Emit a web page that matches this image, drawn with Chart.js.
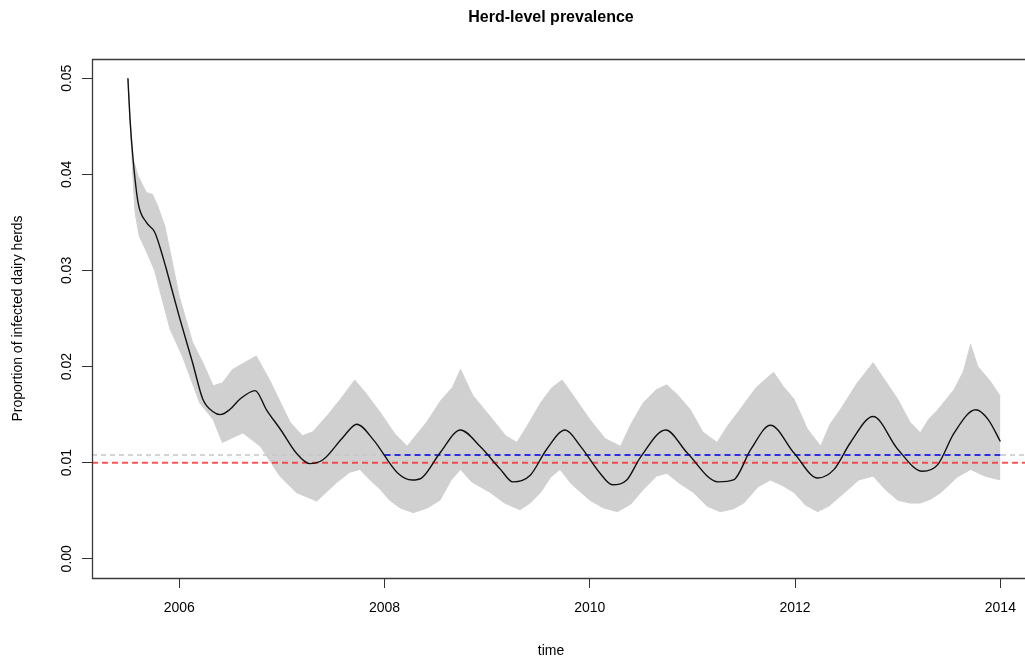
<!DOCTYPE html>
<html>
<head>
<meta charset="utf-8">
<title>Herd-level prevalence</title>
<script src="https://cdn.jsdelivr.net/npm/chart.js@4.4.1/dist/chart.umd.min.js"></script>
<style>
	html, body { margin: 0; padding: 0; background: #fff; }
	#chart { display: block; }
</style>
</head>
<body>
<canvas id="chart" width="1025" height="666"></canvas>
<script>
const meanYears = [2005.50, 2005.52, 2005.55, 2005.60, 2005.68, 2005.76, 2005.81, 2005.87, 2006.00, 2006.13, 2006.23, 2006.33, 2006.40, 2006.49, 2006.59, 2006.74, 2006.85, 2006.99, 2007.14, 2007.27, 2007.40, 2007.60, 2007.73, 2007.89, 2008.13, 2008.27, 2008.36, 2008.54, 2008.74, 2008.93, 2009.13, 2009.25, 2009.42, 2009.58, 2009.76, 2009.91, 2010.10, 2010.22, 2010.36, 2010.49, 2010.74, 2010.95, 2011.25, 2011.40, 2011.57, 2011.76, 2011.99, 2012.22, 2012.38, 2012.54, 2012.76, 2013.00, 2013.24, 2013.39, 2013.55, 2013.76, 2013.88, 2014.00];
const meanValues = [0.0500, 0.0458, 0.0416, 0.0370, 0.0350, 0.0340, 0.0325, 0.0303, 0.0252, 0.0204, 0.0166, 0.0153, 0.0150, 0.0155, 0.0166, 0.0175, 0.0155, 0.0134, 0.0110, 0.0099, 0.0103, 0.0127, 0.0140, 0.0124, 0.0089, 0.0082, 0.0084, 0.0110, 0.0134, 0.0117, 0.0093, 0.0080, 0.0087, 0.0114, 0.0134, 0.0117, 0.0089, 0.0077, 0.0082, 0.0105, 0.0134, 0.0110, 0.0080, 0.0082, 0.0114, 0.0139, 0.0110, 0.0084, 0.0093, 0.0121, 0.0148, 0.0114, 0.0091, 0.0098, 0.0131, 0.0155, 0.0145, 0.0122];

// outer edges of the grey simulated runs
const upperYears = [2005.50, 2005.52, 2005.55, 2005.60, 2005.68, 2005.74, 2005.79, 2005.86, 2005.92, 2006.00, 2006.13, 2006.23, 2006.33, 2006.42, 2006.52, 2006.75, 2006.88, 2007.08, 2007.20, 2007.30, 2007.45, 2007.57, 2007.71, 2007.82, 2007.96, 2008.10, 2008.22, 2008.41, 2008.55, 2008.66, 2008.74, 2008.86, 2009.03, 2009.18, 2009.29, 2009.40, 2009.52, 2009.63, 2009.73, 2009.85, 2010.00, 2010.15, 2010.30, 2010.40, 2010.52, 2010.65, 2010.75, 2010.86, 2010.98, 2011.10, 2011.24, 2011.34, 2011.44, 2011.62, 2011.79, 2011.88, 2011.99, 2012.12, 2012.25, 2012.34, 2012.44, 2012.60, 2012.76, 2012.88, 2013.00, 2013.12, 2013.22, 2013.30, 2013.39, 2013.55, 2013.64, 2013.71, 2013.78, 2013.90, 2014.00];
const upperValues = [0.0500, 0.0458, 0.0416, 0.0398, 0.0381, 0.0379, 0.0367, 0.0346, 0.0315, 0.0273, 0.0225, 0.0204, 0.0180, 0.0183, 0.0197, 0.0211, 0.0186, 0.0142, 0.0128, 0.0132, 0.0150, 0.0166, 0.0186, 0.0172, 0.0152, 0.0130, 0.0117, 0.0142, 0.0165, 0.0178, 0.0197, 0.0170, 0.0148, 0.0128, 0.0121, 0.0140, 0.0162, 0.0178, 0.0186, 0.0168, 0.0145, 0.0125, 0.0117, 0.0140, 0.0162, 0.0176, 0.0181, 0.0170, 0.0155, 0.0132, 0.0121, 0.0138, 0.0152, 0.0178, 0.0194, 0.0180, 0.0166, 0.0135, 0.0117, 0.0140, 0.0155, 0.0182, 0.0204, 0.0185, 0.0166, 0.0142, 0.0131, 0.0145, 0.0155, 0.0176, 0.0195, 0.0223, 0.0200, 0.0185, 0.0169];
const lowerYears = [2005.50, 2005.52, 2005.55, 2005.57, 2005.61, 2005.70, 2005.76, 2005.91, 2006.03, 2006.20, 2006.33, 2006.42, 2006.62, 2006.79, 2006.98, 2007.14, 2007.34, 2007.53, 2007.66, 2007.76, 2007.86, 2007.96, 2008.05, 2008.15, 2008.28, 2008.42, 2008.54, 2008.65, 2008.74, 2008.85, 2009.03, 2009.17, 2009.32, 2009.42, 2009.52, 2009.62, 2009.71, 2009.82, 2010.00, 2010.13, 2010.27, 2010.40, 2010.52, 2010.65, 2010.75, 2010.88, 2011.01, 2011.14, 2011.27, 2011.40, 2011.50, 2011.64, 2011.76, 2011.88, 2011.99, 2012.10, 2012.22, 2012.33, 2012.44, 2012.62, 2012.76, 2012.88, 2013.00, 2013.12, 2013.22, 2013.32, 2013.42, 2013.58, 2013.71, 2013.85, 2014.00];
const lowerValues = [0.0500, 0.0458, 0.0395, 0.0360, 0.0336, 0.0315, 0.0300, 0.0239, 0.0211, 0.0162, 0.0145, 0.0121, 0.0131, 0.0117, 0.0086, 0.0069, 0.0060, 0.0079, 0.0090, 0.0093, 0.0082, 0.0072, 0.0061, 0.0053, 0.0048, 0.0053, 0.0061, 0.0082, 0.0093, 0.0080, 0.0069, 0.0058, 0.0051, 0.0058, 0.0069, 0.0085, 0.0093, 0.0078, 0.0061, 0.0053, 0.0049, 0.0057, 0.0072, 0.0086, 0.0089, 0.0078, 0.0069, 0.0055, 0.0049, 0.0052, 0.0058, 0.0075, 0.0082, 0.0076, 0.0069, 0.0056, 0.0049, 0.0055, 0.0065, 0.0082, 0.0086, 0.0072, 0.0061, 0.0058, 0.0058, 0.0062, 0.0069, 0.0085, 0.0093, 0.0086, 0.0082];

const xTicks = [2006, 2008, 2010, 2012, 2014];
const yTicks = [0, 0.01, 0.02, 0.03, 0.04, 0.05];
const xRange = [2005.15, 2014.24];
const yRange = [-0.002, 0.052];

const redLevel = 0.01;
const greyLevel = 0.0108;
const blueLevel = 0.0108;
const blueYears = [2008, 2014];

const fontFamily = '"Liberation Sans", Arial, Helvetica, sans-serif';

const toPoints = (xs, ys) => xs.map((x, i) => ({ x, y: ys[i] }));
const flatLine = (xs, level) => xs.map((x) => ({ x, y: level }));

const frame = {
	id: 'frame',
	afterDraw: (chart) => {
		const { ctx, chartArea: { left, top, right, bottom } } = chart;

		ctx.save();
		ctx.strokeStyle = '#3a3a3a';
		ctx.lineWidth = 1.3;
		ctx.beginPath();
		ctx.moveTo(right, top + 0.5);
		ctx.lineTo(left + 0.5, top + 0.5);
		ctx.lineTo(left + 0.5, bottom + 0.5);
		ctx.lineTo(right, bottom + 0.5);
		ctx.stroke();

		ctx.fillStyle = '#000';
		ctx.textAlign = 'center';
		ctx.textBaseline = 'middle';
		ctx.font = `bold 16px ${fontFamily}`;
		ctx.fillText('Herd-level prevalence', 551, 18);
		ctx.font = `14px ${fontFamily}`;
		ctx.fillText('time', 551, 651);
		ctx.restore();
	},
};

Chart.defaults.font.family = fontFamily;
Chart.defaults.font.size = 14;
Chart.defaults.color = '#000';

new Chart(document.getElementById('chart'), {
	type: 'line',
	data: {
		datasets: [
			{
				data: toPoints(meanYears, meanValues),
				borderColor: '#111',
				borderWidth: 1.4,
				pointRadius: 0,
				cubicInterpolationMode: 'monotone',
				fill: false,
				order: 0,
			},
			{
				data: flatLine(xRange, redLevel),
				borderColor: 'rgba(255, 40, 40, 0.8)',
				borderWidth: 2,
				borderDash: [6, 4],
				pointRadius: 0,
				fill: false,
				order: 1,
			},
			{
				data: flatLine(blueYears, blueLevel),
				borderColor: 'rgba(20, 20, 230, 0.85)',
				borderWidth: 2,
				borderDash: [6, 4],
				pointRadius: 0,
				fill: false,
				order: 1,
			},
			{
				data: flatLine(xRange, greyLevel),
				borderColor: '#c6c6c6',
				borderWidth: 1.5,
				borderDash: [5, 4],
				pointRadius: 0,
				fill: false,
				order: 2,
			},
			{
				data: toPoints(upperYears, upperValues),
				borderColor: '#d0d0d0',
				backgroundColor: '#d0d0d0',
				borderWidth: 1,
				pointRadius: 0,
				fill: '+1',
				order: 3,
			},
			{
				data: toPoints(lowerYears, lowerValues),
				borderColor: '#d0d0d0',
				borderWidth: 1,
				pointRadius: 0,
				fill: false,
				order: 3,
			},
		],
	},
	options: {
		responsive: false,
		animation: false,
		devicePixelRatio: 1,
		layout: {
			padding: { top: 59, right: 0, bottom: 0, left: 0 },
		},
		plugins: {
			legend: { display: false },
			tooltip: { enabled: false },
		},
		scales: {
			x: {
				type: 'linear',
				min: xRange[0],
				max: xRange[1],
				afterBuildTicks: (axis) => {
					axis.ticks = xTicks.map((value) => ({ value }));
				},
				afterFit: (axis) => {
					axis.height = 88;
					axis.paddingLeft = 0;
					axis.paddingRight = 0;
				},
				ticks: {
					padding: 12,
					maxRotation: 0,
					callback: (value) => String(value),
				},
				grid: {
					drawOnChartArea: false,
					tickLength: 10,
					color: '#333',
				},
				border: { display: false },
			},
			y: {
				type: 'linear',
				min: yRange[0],
				max: yRange[1],
				afterBuildTicks: (axis) => {
					axis.ticks = yTicks.map((value) => ({ value }));
				},
				afterFit: (axis) => {
					axis.width = 92;
				},
				ticks: {
					padding: 1,
					minRotation: 90,
					maxRotation: 90,
					crossAlign: 'center',
					callback: (value) => value.toFixed(2),
				},
				grid: {
					drawOnChartArea: false,
					tickLength: 10,
					color: '#333',
				},
				border: { display: false },
				title: {
					display: true,
					text: 'Proportion of infected dairy herds',
					padding: { top: 10, bottom: 0 },
				},
			},
		},
	},
	plugins: [frame],
});
</script>
</body>
</html>
